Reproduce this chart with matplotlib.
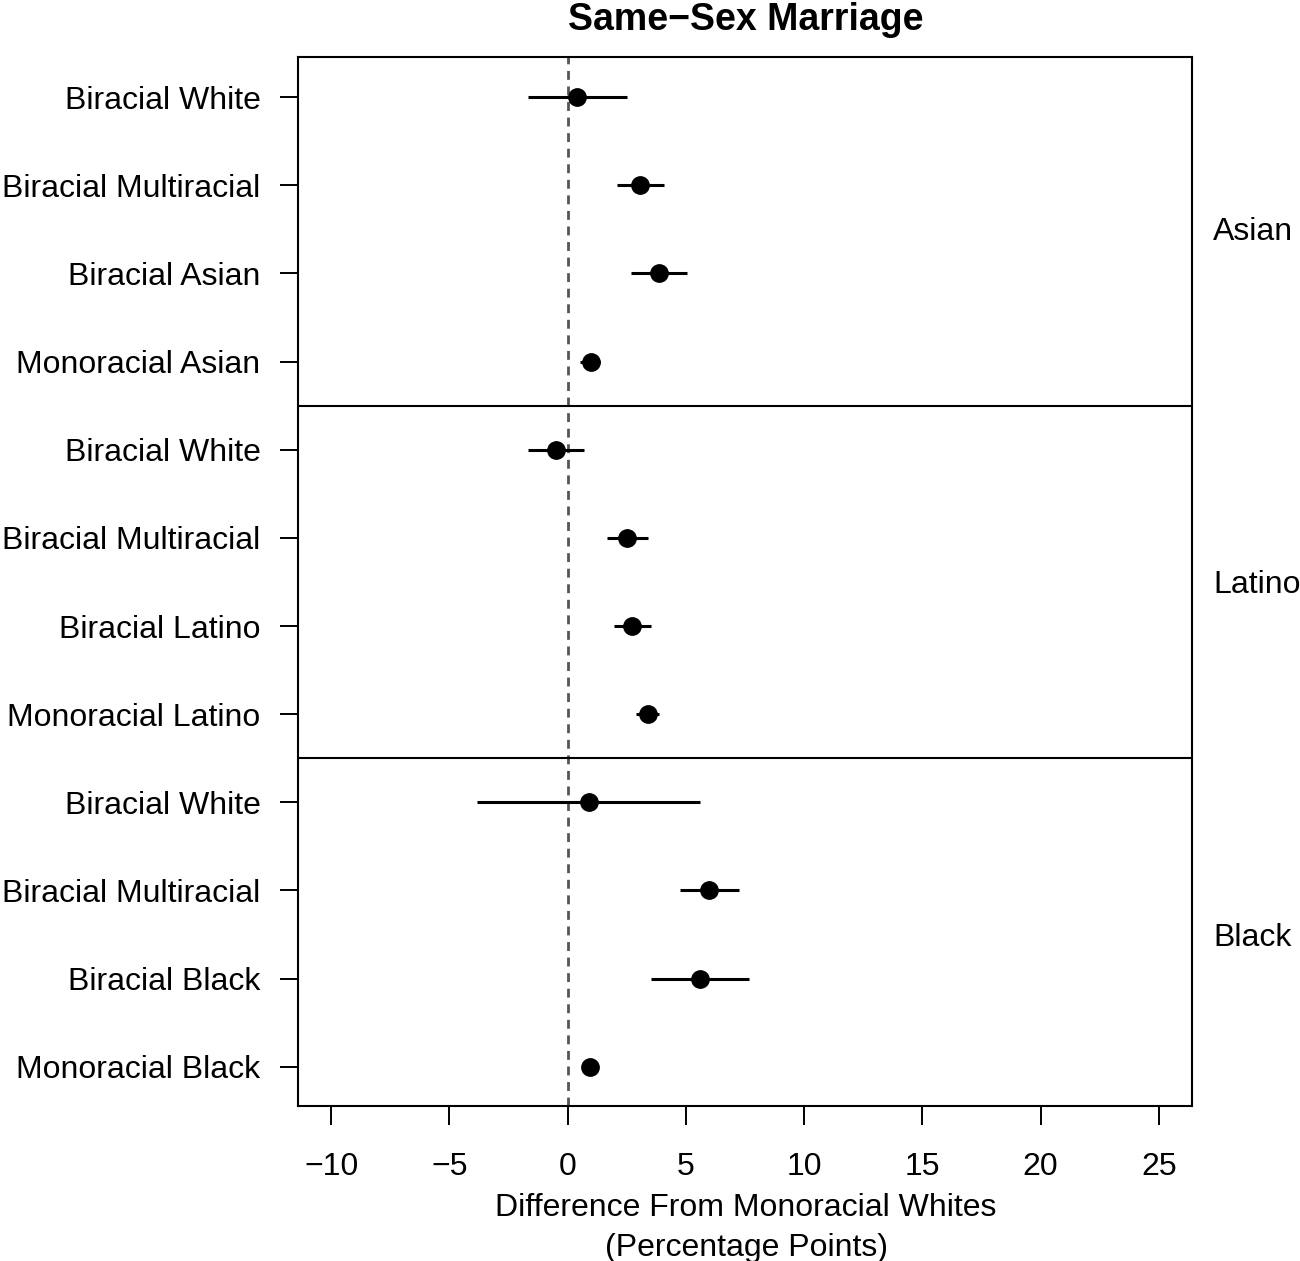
import matplotlib
matplotlib.use("Agg")
import matplotlib.pyplot as plt
import matplotlib.transforms as mtransforms

plt.rcParams['font.family'] = ['Liberation Sans', 'DejaVu Sans']

groups = ["Asian", "Latino", "Black"]
row_labels = {
    "Asian": ["Biracial White", "Biracial Multiracial", "Biracial Asian", "Monoracial Asian"],
    "Latino": ["Biracial White", "Biracial Multiracial", "Biracial Latino", "Monoracial Latino"],
    "Black": ["Biracial White", "Biracial Multiracial", "Biracial Black", "Monoracial Black"],
}
estimates = {
    "Asian": [0.41, 3.07, 3.86, 0.98],
    "Latino": [-0.49, 2.53, 2.74, 3.39],
    "Black": [0.89, 5.99, 5.60, 0.93],
}
lower = {
    "Asian": [-1.66, 2.10, 2.69, 0.54],
    "Latino": [-1.69, 1.67, 1.96, 2.90],
    "Black": [-3.82, 4.75, 3.53, 0.72],
}
upper = {
    "Asian": [2.50, 4.06, 5.03, 1.38],
    "Latino": [0.68, 3.39, 3.51, 3.85],
    "Black": [5.60, 7.26, 7.66, 1.15],
}
x_ticks = [-10, -5, 0, 5, 10, 15, 20, 25]
x_ticklabels = ["\u221210", "\u22125", "0", "5", "10", "15", "20", "25"]
title = "Same\u2212Sex Marriage"
xlabel_lines = ["Difference From Monoracial Whites", "(Percentage Points)"]

W, H = 1300, 1261
fig = plt.figure(figsize=(W / 100, H / 100), dpi=100)

left, right = 298 / W, 1192 / W
top_px, bot_px = 57, 1106
ax = fig.add_axes([left, 1 - bot_px / H, right - left, (bot_px - top_px) / H])
fs = 23

n_total = sum(len(row_labels[g]) for g in groups)
ax.axvline(0, color="#555555", lw=2.0, dashes=(3.2, 2.4), zorder=1)

all_y, all_lab = [], []
k = 0
offset = mtransforms.ScaledTranslation(0, -3 / 100, fig.dpi_scale_trans)
for i, g in enumerate(groups):
    n = len(row_labels[g])
    ys = [n_total - (k + j) for j in range(n)]
    ax.hlines(ys, lower[g], upper[g], color="black", lw=2.2, zorder=2)
    ax.plot(estimates[g], ys, "o", color="black", ms=12.5, zorder=3)
    all_y += ys
    all_lab += row_labels[g]
    ymid = sum(ys) / n
    ax.text(1213 / W, ymid, g, transform=mtransforms.blended_transform_factory(fig.transFigure, ax.transData) + offset,
            fontsize=fs, ha="left", va="center")
    if i < len(groups) - 1:
        ax.axhline(ys[-1] - 0.5, color="black", lw=1.5, zorder=4)
    k += n

ax.set_xlim(-11.4, 26.4)
ax.set_ylim(0.555, n_total + 0.455)
ax.set_yticks(all_y)
ax.set_yticklabels(all_lab, fontsize=fs)
ax.tick_params(axis="y", direction="out", length=13, width=1.4, pad=14)
ax.set_xticks(x_ticks)
ax.set_xticklabels(x_ticklabels, fontsize=fs)
ax.tick_params(axis="x", direction="out", length=13.5, width=1.4, pad=19.5)
for s in ax.spines.values():
    s.set_linewidth(1.5)

fig.text(746 / W, 1 - 20 / H, title, fontsize=27, fontweight="bold", ha="center", va="center")
fig.text(746 / W, 1 - 1208 / H, xlabel_lines[0], fontsize=fs, ha="center", va="center")
fig.text(746 / W, 1 - 1248 / H, xlabel_lines[1], fontsize=fs, ha="center", va="center")

fig.savefig("out.png", dpi=100)
